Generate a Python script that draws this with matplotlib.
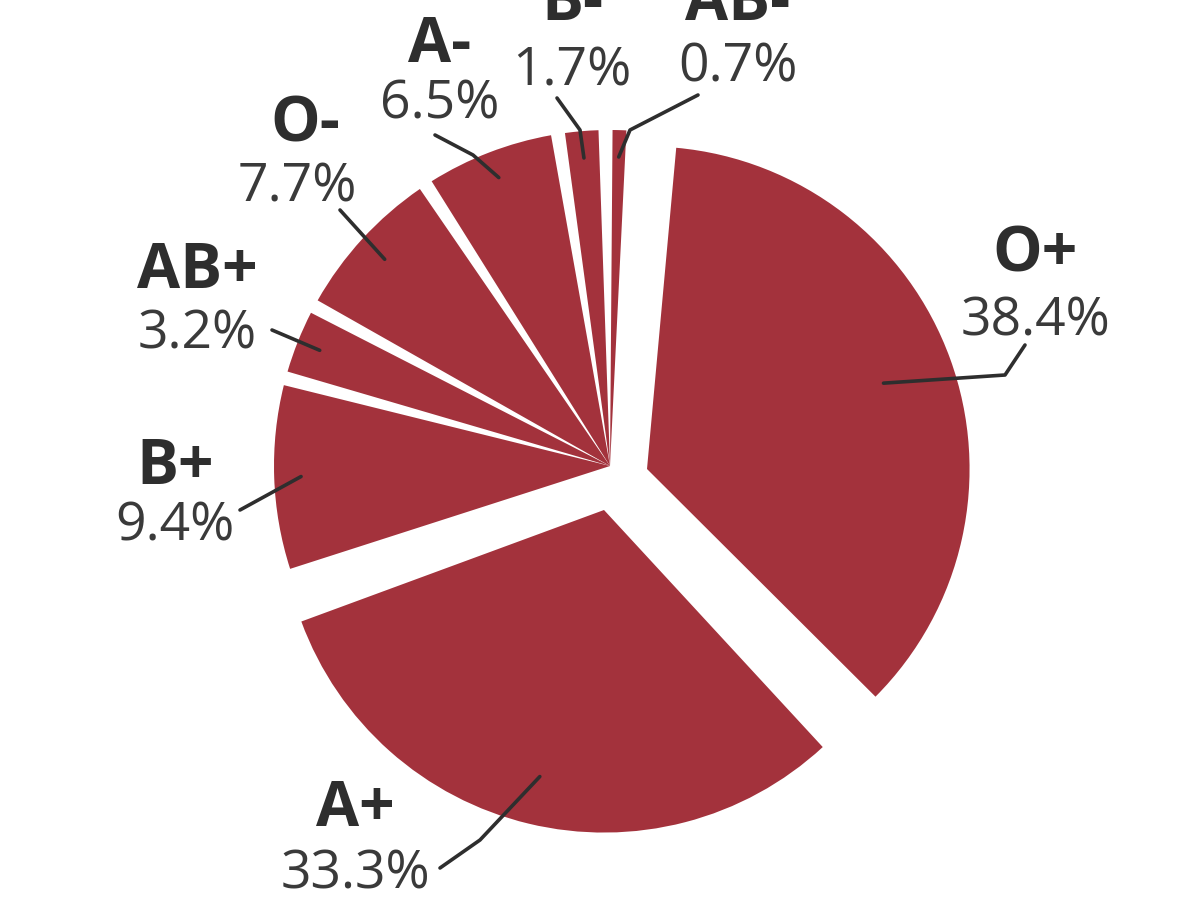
import numpy as np
import matplotlib.pyplot as plt

groups = ["O+", "A+", "B+", "AB+", "O-", "A-", "B-", "AB-"]
shares = [38.4, 33.3, 9.4, 3.2, 7.7, 6.5, 1.7, 0.7]

# label placement in pixel coords of the 1200x900 canvas: (x, y of name), (x, y of percent)
name_pos = [(1035, 255), (355, 810), (175, 467), (197, 272), (305, 125), (440, 45), (572, 4), (738, 4)]
pct_pos = [(1035, 322), (355, 875), (175, 527), (197, 335), (297, 188), (440, 105), (572, 72), (738, 68)]
# leader lines: where they leave the slice (fraction of radius), optional elbow, end point (pixels)
lead_r = [0.78, 0.85, 0.92, 0.93, 0.91, 0.92, 0.92, 0.92]
elbows = [(1005, 375), (480, 840), None, None, None, (473, 155), (580, 130), (630, 130)]
ends = [(1025, 345), (440, 868), (240, 510), (272, 330), (340, 210), (435, 135), (557, 98), (698, 95)]
# pulled-out slices: offset in pixels (right, down) and their radius
offsets = [(37, 3), (-6, 44), (0, 0), (0, 0), (0, 0), (0, 0), (0, 0), (0, 0)]
radii = [0.96, 0.96, 1, 1, 1, 1, 1, 1]

color = "#a3323c"
txt = "#2e2e2e"
cx, cy, R = 610, 466, 336.0   # pie centre and radius in pixels
gap = 2.4                     # degrees of white between slices
start = 86

def px(x, y):
    return (x - cx) / R, (cy - y) / R

fig = plt.figure(figsize=(12, 9), dpi=100)
ax = fig.add_axes([0, 0, 1, 1])

wedges, _ = ax.pie(shares, colors=[color] * len(shares), startangle=start,
                   counterclock=False, wedgeprops=dict(linewidth=0))

# pie() resets the limits, so set them afterwards
ax.set_xlim(px(0, 0)[0], px(1200, 0)[0])
ax.set_ylim(px(0, 900)[1], px(0, 0)[1])
ax.set_aspect("equal")
ax.axis("off")

# re-space the wedges so every slice keeps its share and white gaps sit between them
total = sum(shares)
avail = 360 - len(shares) * gap
theta = start
mids = []
for w, v, off, rad in zip(wedges, shares, offsets, radii):
    span = v / total * avail
    t2 = theta - gap / 2
    t1 = t2 - span
    w.set_theta1(t1)
    w.set_theta2(t2)
    w.set_radius(rad)
    c = (off[0] / R, -off[1] / R)
    w.set_center(c)
    mids.append((np.deg2rad((t1 + t2) / 2), c, rad))
    theta = t1 - gap / 2

for i, g in enumerate(groups):
    m, c, rad = mids[i]
    r = lead_r[i] * rad
    pts = [(c[0] + r * np.cos(m), c[1] + r * np.sin(m))]
    if elbows[i] is not None:
        pts.append(px(*elbows[i]))
    pts.append(px(*ends[i]))
    xs, ys = zip(*pts)
    ax.plot(xs, ys, color=txt, lw=2.6, solid_capstyle="round", solid_joinstyle="round")

    ax.text(*px(*name_pos[i]), g, ha="center", va="center", fontsize=45,
            fontweight="bold", family="Open Sans", color=txt)
    ax.text(*px(*pct_pos[i]), f"{shares[i]}%", ha="center", va="center", fontsize=38.5,
            family="Open Sans", color="#3a3a3a")

plt.savefig("out.png", dpi=100)
